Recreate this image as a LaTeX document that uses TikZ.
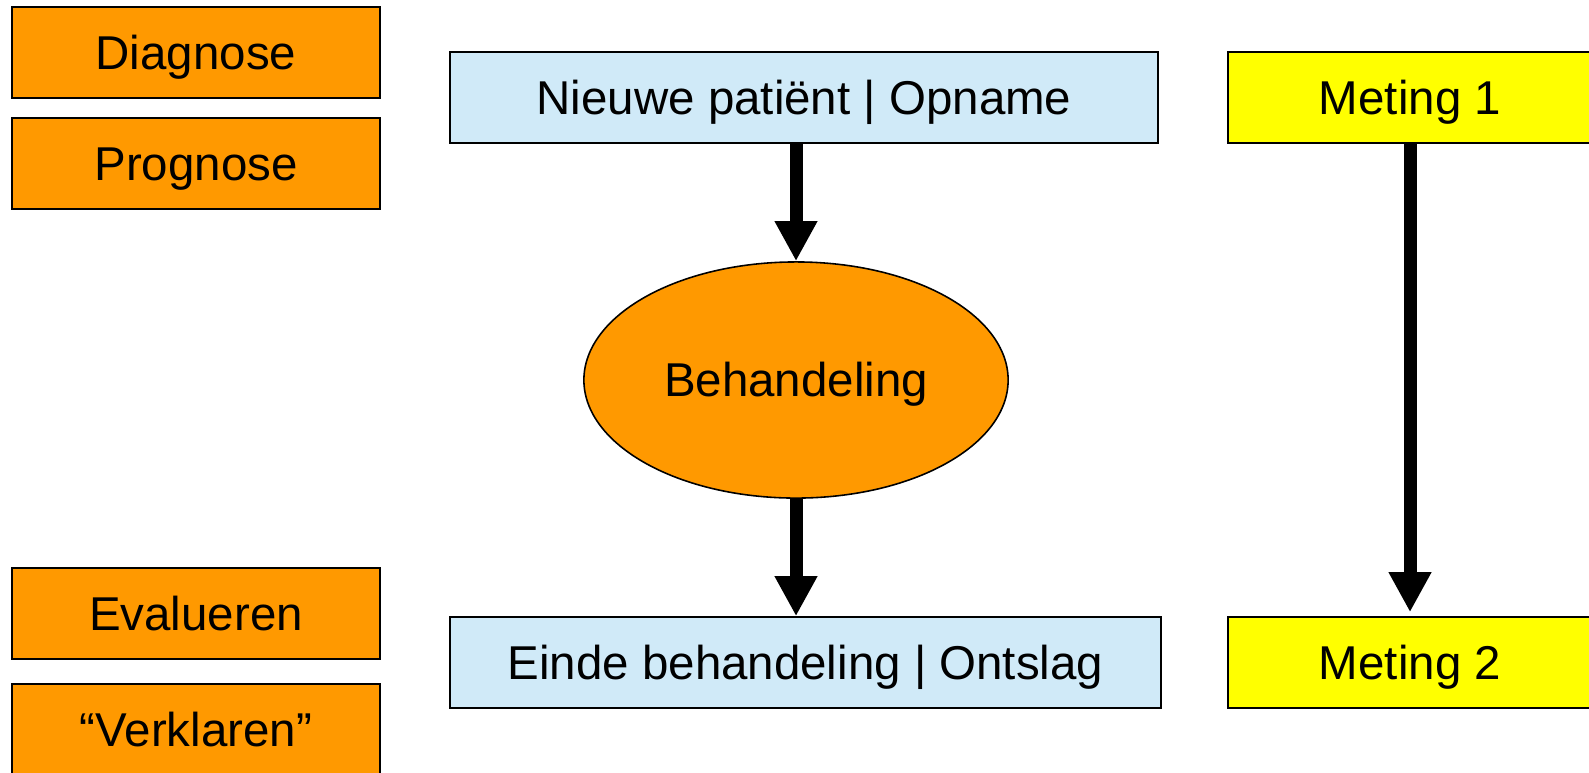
\documentclass[tikz,border=0pt]{standalone}
\usepackage{fontspec}
\setmainfont{Liberation Sans}
\usetikzlibrary{shapes.geometric}
\usetikzlibrary{arrows.meta}

\definecolor{oranje}{RGB}{255,153,0}
\definecolor{lichtblauw}{RGB}{208,234,248}
\definecolor{geel}{RGB}{255,255,0}

\begin{document}
\begin{tikzpicture}[
      x=0.01cm, y=-0.01cm,
      every node/.style={draw, line width=0.45pt, inner sep=0pt,
        text height=9.4pt, text depth=0pt,
        font=\fontsize{13.5}{16}\selectfont},
      stap/.style={rectangle, fill=oranje, minimum width=3.68cm, minimum height=0.91cm},
      fase/.style={rectangle, fill=lichtblauw, minimum height=0.91cm},
      meting/.style={rectangle, fill=geel, minimum width=3.64cm, minimum height=0.91cm},
      pijl/.style={line width=3.7pt, -{Triangle[width=0.4cm,length=0.4cm]}}
    ]
    \useasboundingbox (0,0) rectangle (1589,772);
    % Links: stappen
    \node[stap] (diagnose) at (196,52.5) {Diagnose};
    \node[stap] (prognose) at (196,163.5) {Prognose};
    \node[stap] (evalueren) at (196,613.5) {Evalueren};
    \node[stap] (verklaren) at (196,729.5) {``Verklaren''};
    % Midden: verloop
    \node[fase, minimum width=7.08cm] (opname) at (804,97.5) {Nieuwe patiënt | Opname};
    \node[ellipse, fill=oranje, minimum width=4.24cm, minimum height=2.36cm]
      (behandeling) at (796,380) {Behandeling};
    \node[fase, minimum width=7.11cm] (ontslag) at (805.5,662.5) {Einde behandeling | Ontslag};
    % Rechts: metingen
    \node[meting] (meting1) at (1410,97.5) {Meting 1};
    \node[meting] (meting2) at (1410,662.5) {Meting 2};
    % Pijlen
    \draw[pijl] (behandeling.north |- opname.south) -- (behandeling.north);
    \draw[pijl] (behandeling.south) -- (behandeling.south |- ontslag.north);
    \draw[pijl] (meting1.south) -- ([yshift=0.04cm]meting2.north);
  \end{tikzpicture}
\end{document}
